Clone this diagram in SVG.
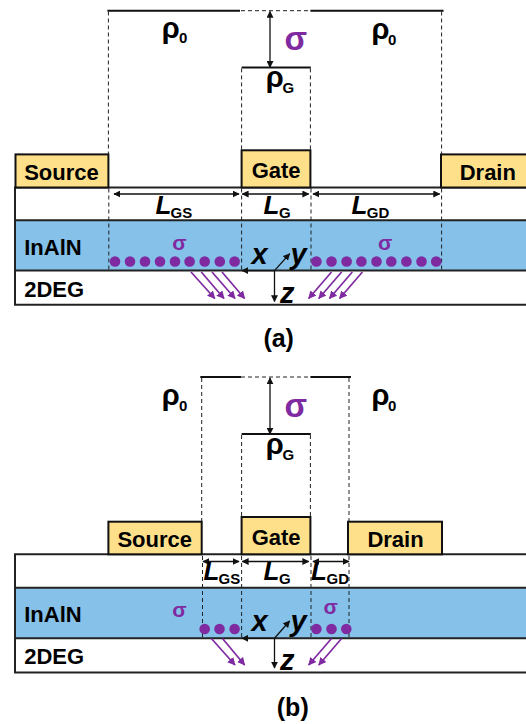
<svg xmlns="http://www.w3.org/2000/svg" width="526" height="724" viewBox="0 0 526 724">
<style>
text{font-family:"Liberation Sans",Arial,sans-serif;font-weight:bold;fill:#000}
.c{fill:#ffe08a;stroke:#111;stroke-width:2}
.l{font-size:22px}
.r{font-size:29px}
.s{font-size:15px}
.L{font-size:26px;font-style:italic}
.a{font-size:29px;font-style:italic}
.p{fill:#7f2aa0}
.sig{font-size:33px}
.sm{font-size:21px}
.cap{font-size:25px}
.dash{stroke:#222;stroke-width:1;stroke-dasharray:4 3;fill:none}
.sol{stroke:#111;stroke-width:2;fill:none}
.edge{stroke:#222;stroke-width:2;fill:none}
.dim{stroke:#111;stroke-width:1.3;fill:none;marker-start:url(#ab);marker-end:url(#ab)}
.one{stroke:#111;stroke-width:1.3;fill:none;marker-end:url(#ab)}
.pa{stroke:#7f2aa0;stroke-width:1.7;fill:none;marker-end:url(#ap)}
.dot{fill:#7f2aa0}
</style>
<defs>
<marker id="ab" viewBox="0 0 10 10" refX="9" refY="5" markerUnits="userSpaceOnUse" markerWidth="7" markerHeight="7" orient="auto-start-reverse"><path d="M0 0L10 5L0 10Z" fill="#111"/></marker>
<marker id="ap" viewBox="0 0 10 10" refX="9" refY="5" markerUnits="userSpaceOnUse" markerWidth="8" markerHeight="8" orient="auto"><path d="M0 0L10 5L0 10Z" fill="#7f2aa0"/></marker>
</defs>

<g id="panel-a-layers">
<rect id="a-inaln" x="15" y="220.300" width="511" height="50.300" fill="#85c1e9"/>
<path class="edge" d="M526 187.500H15V304.800H526M15 220.300H526M15 270.600H526"/>
<text class="l" x="24.200" y="254.500">InAlN</text>
<text class="l" x="24.200" y="296.800">2DEG</text>
</g>
<g id="panel-a-source"><rect class="c" x="15.500" y="154.400" width="92.900" height="33.100"/><text class="l" x="24.200" y="179.500">Source</text></g>
<g id="panel-a-gate"><rect class="c" x="241.600" y="150.300" width="68.800" height="37.200"/><text class="l" x="251.700" y="177.900">Gate</text></g>
<g id="panel-a-drain"><rect class="c" x="441" y="154.400" width="90" height="33.100"/><text class="l" x="459.700" y="179.500">Drain</text></g>
<g id="panel-a-connectors">
<path class="sol" d="M107.400 10.700H240M310.400 10.700H443.600M241.600 67.400H310.800"/>
<path class="dash" d="M241 10.700H310M108.400 11.500V154M441.600 11.500V154M241.600 68.400V150M310.400 68.400V150M108.800 188.500V270M241.600 188.500V270M311 188.500V270M441.600 188.500V270"/>
<path class="dim" d="M270 11.500V67.400"/>
<path class="dim" d="M114 194H239"/><path class="dim" d="M242.300 194H308.700"/><path class="dim" d="M313 194H439.600"/>
<path class="one" d="M274.500 270.600H242"/><path class="one" d="M274.500 270.600L289.600 253.800"/><path class="one" d="M274.500 270.600V301.500"/>
<path class="pa" d="M191 272L214.800 298.500"/><path class="pa" d="M201.300 272L224 298.500"/><path class="pa" d="M212 272L235 298.500"/><path class="pa" d="M222 272L244.600 298.500"/>
<path class="pa" d="M331.500 272L308.700 298.500"/><path class="pa" d="M341.600 272L318.800 298.500"/><path class="pa" d="M352.300 272L329.500 298.500"/><path class="pa" d="M362.400 272L339.600 298.500"/>
</g>
<g id="panel-a-charges">
<circle class="dot" cx="115" cy="261.500" r="5.300"/><circle class="dot" cx="130" cy="261.500" r="5.300"/><circle class="dot" cx="145" cy="261.500" r="5.300"/><circle class="dot" cx="160" cy="261.500" r="5.300"/><circle class="dot" cx="175" cy="261.500" r="5.300"/><circle class="dot" cx="189.600" cy="261.500" r="5.300"/><circle class="dot" cx="204.700" cy="261.500" r="5.300"/><circle class="dot" cx="219.800" cy="261.500" r="5.300"/><circle class="dot" cx="234.600" cy="261.500" r="5.300"/>
<circle class="dot" cx="316.400" cy="261.500" r="5.300"/><circle class="dot" cx="331.500" cy="261.500" r="5.300"/><circle class="dot" cx="346.600" cy="261.500" r="5.300"/><circle class="dot" cx="361.400" cy="261.500" r="5.300"/><circle class="dot" cx="376.500" cy="261.500" r="5.300"/><circle class="dot" cx="391.300" cy="261.500" r="5.300"/><circle class="dot" cx="406.400" cy="261.500" r="5.300"/><circle class="dot" cx="421.500" cy="261.500" r="5.300"/><circle class="dot" cx="436.200" cy="261.500" r="5.300"/>
</g>
<g id="panel-a-labels">
<text class="r" x="161.700" y="37.500">ρ</text><text class="s" x="179" y="43">0</text>
<text class="r" x="371.500" y="38.500">ρ</text><text class="s" x="388" y="44.500">0</text>
<text class="r" x="265.800" y="87">ρ</text><text class="s" x="282.500" y="93">G</text>
<text class="p sig" x="284.500" y="50">σ</text>
<text class="L" x="155.500" y="213.600">L</text><text class="s" x="170.500" y="217.600">GS</text>
<text class="L" x="263.500" y="213.600">L</text><text class="s" x="279" y="217.600">G</text>
<text class="L" x="351.500" y="213.600">L</text><text class="s" x="366.800" y="217.600">GD</text>
<text class="p sm" x="172.300" y="249.800">σ</text><text class="p sm" x="378" y="249.800">σ</text>
<text class="a" x="251.500" y="264">x</text><text class="a" x="290.500" y="264">y</text><text class="a" x="280" y="303">z</text>
<text class="cap" x="263.400" y="346.800">(a)</text>
</g>

<g id="panel-b-layers">
<rect id="b-inaln" x="15" y="587.700" width="511" height="50.600" fill="#85c1e9"/>
<path class="edge" d="M526 554.300H15V672.500H526M15 587.700H526M15 638.300H526"/>
<text class="l" x="24.200" y="621.500">InAlN</text>
<text class="l" x="24.200" y="663.500">2DEG</text>
</g>
<g id="panel-b-source"><rect class="c" x="108.400" y="521.700" width="93.300" height="32.600"/><text class="l" x="117.400" y="546.500">Source</text></g>
<g id="panel-b-gate"><rect class="c" x="241.600" y="517" width="68.800" height="37.300"/><text class="l" x="251.700" y="544.500">Gate</text></g>
<g id="panel-b-drain"><rect class="c" x="348" y="521.700" width="94" height="32.600"/><text class="l" x="367.400" y="546.500">Drain</text></g>
<g id="panel-b-connectors">
<path class="sol" d="M200.300 377H241M310.400 377H351M241.600 434H310.800"/>
<path class="dash" d="M241 377H310M201.700 378V521M349 378V521M241.600 435V517M310.400 435V517M202.500 556V638M241.600 556V638M311 556V638M349 556V638"/>
<path class="dim" d="M270 378V434"/>
<path class="dim" d="M203 561.500H239"/><path class="dim" d="M242.300 561.500H308.700"/><path class="dim" d="M313 561.500H349"/>
<path class="one" d="M274.500 638.300H242"/><path class="one" d="M274.500 638.300L289.600 621"/><path class="one" d="M274.500 638.300V668"/>
<path class="pa" d="M211.400 638.500L235 665"/><path class="pa" d="M222.500 638.500L244.600 665"/>
<path class="pa" d="M331.500 638.500L308.700 665"/><path class="pa" d="M341.600 638.500L318.800 665"/>
</g>
<g id="panel-b-charges">
<circle class="dot" cx="204.700" cy="629" r="5.300"/><circle class="dot" cx="219.500" cy="629" r="5.300"/><circle class="dot" cx="234.600" cy="629" r="5.300"/>
<circle class="dot" cx="316.400" cy="629" r="5.300"/><circle class="dot" cx="331.500" cy="629" r="5.300"/><circle class="dot" cx="346.300" cy="629" r="5.300"/>
</g>
<g id="panel-b-labels">
<text class="r" x="161.700" y="405">ρ</text><text class="s" x="179" y="410.500">0</text>
<text class="r" x="371.500" y="405">ρ</text><text class="s" x="388" y="411">0</text>
<text class="r" x="265.800" y="454">ρ</text><text class="s" x="282.500" y="460">G</text>
<text class="p sig" x="284.500" y="416.500">σ</text>
<text class="L" x="203.500" y="579.600">L</text><text class="s" x="218.500" y="584.300">GS</text>
<text class="L" x="263.500" y="579.600">L</text><text class="s" x="279" y="584.300">G</text>
<text class="L" x="311" y="579.600">L</text><text class="s" x="326.500" y="584.300">GD</text>
<text class="p sm" x="172.300" y="617">σ</text><text class="p sm" x="323.500" y="613.800">σ</text>
<text class="a" x="251.500" y="631">x</text><text class="a" x="290.500" y="631">y</text><text class="a" x="280" y="670">z</text>
<text class="cap" x="276.800" y="716">(b)</text>
</g>
</svg>
